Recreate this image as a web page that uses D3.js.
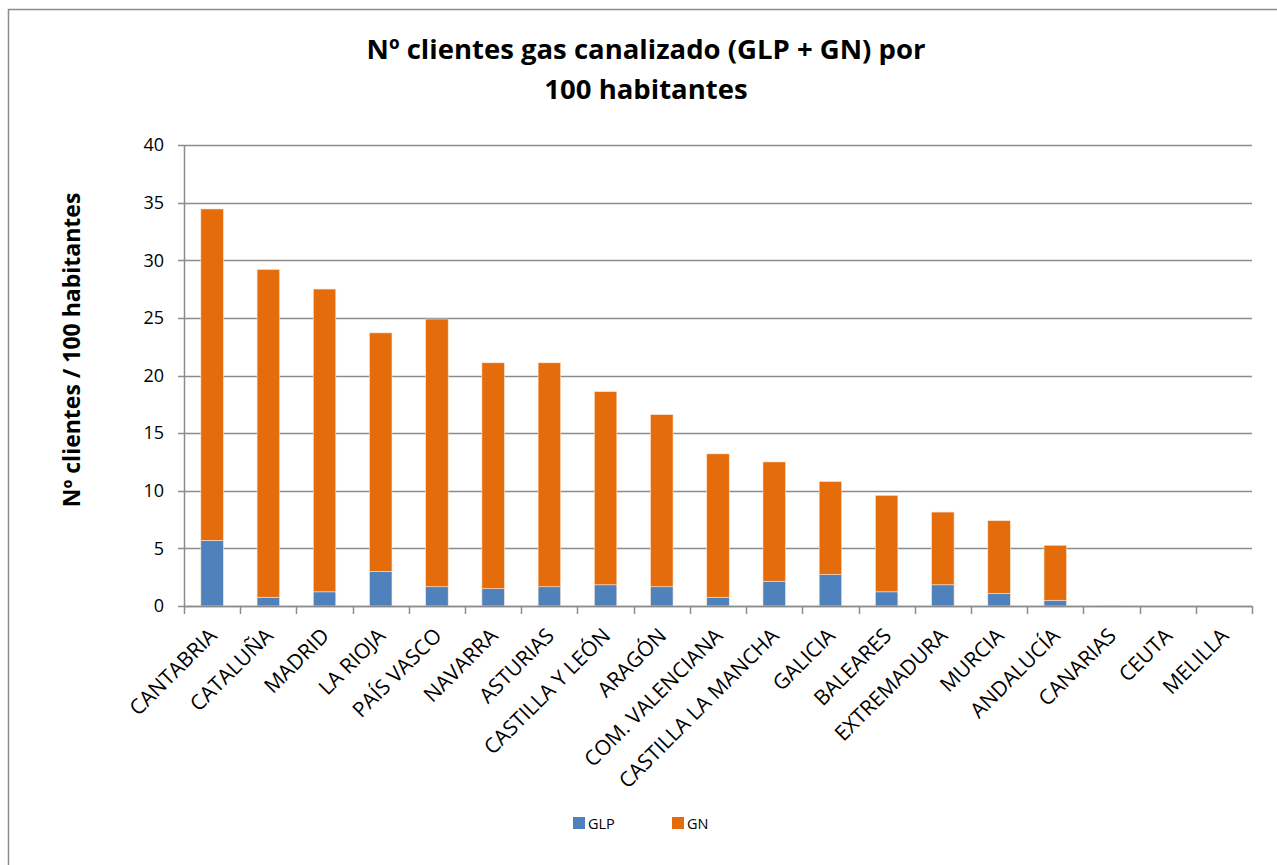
<!DOCTYPE html>
<html>
<head>
<meta charset="utf-8">
<title>Nº clientes gas canalizado</title>
<script src="https://cdn.jsdelivr.net/npm/d3@7"></script>
<style>
  body { margin: 0; background: #fff; }
  svg { display: block; font-family: "Open Sans", "DejaVu Sans", sans-serif; }
</style>
</head>
<body>
<script>
// data
const regiones = ["CANTABRIA", "CATALUÑA", "MADRID", "LA RIOJA", "PAÍS VASCO", "NAVARRA",
  "ASTURIAS", "CASTILLA Y LEÓN", "ARAGÓN", "COM. VALENCIANA", "CASTILLA LA MANCHA",
  "GALICIA", "BALEARES", "EXTREMADURA", "MURCIA", "ANDALUCÍA", "CANARIAS", "CEUTA", "MELILLA"];
const glp = [5.7, 0.76, 1.23, 3.0, 1.67, 1.5, 1.67, 1.84, 1.67, 0.76, 2.15, 2.73, 1.23, 1.84, 1.1, 0.5, 0.05, 0, 0];
const total = [34.45, 29.2, 27.5, 23.7, 24.9, 21.1, 21.1, 18.6, 16.6, 13.2, 12.5, 10.8, 9.6, 8.15, 7.4, 5.27, 0.07, 0, 0];
const gn = total.map((t, i) => Math.max(0, +(t - glp[i]).toFixed(2)));
const series = ["GLP", "GN"];
const colors = ["#4F81BD", "#E46C0A"];
const yTicks = [0, 5, 10, 15, 20, 25, 30, 35, 40];

const W = 1277, H = 865;
const margin = {top: 145, right: 25, bottom: 259, left: 184};
const width = W - margin.left - margin.right,
      height = H - margin.top - margin.bottom;
const FONT = "'Open Sans', 'DejaVu Sans', sans-serif";

const svg = d3.select("body").append("svg")
    .attr("width", W)
    .attr("height", H);

// chart frame
svg.append("rect")
    .attr("x", 8.5).attr("y", 9.5)
    .attr("width", 1300).attr("height", 900)
    .attr("fill", "none")
    .attr("stroke", "#8c8c8c")
    .attr("stroke-width", 1.5);

const title = svg.append("text")
    .attr("text-anchor", "middle")
    .attr("font-weight", "bold")
    .attr("font-size", 27.5)
    .attr("fill", "#000");
title.append("tspan").attr("x", 646).attr("y", 59).text("Nº clientes gas canalizado (GLP + GN) por");
title.append("tspan").attr("x", 646).attr("y", 99).text("100 habitantes");

const g = svg.append("g")
    .attr("transform", "translate(" + margin.left + "," + margin.top + ")");

const x = d3.scaleBand().domain(regiones).range([0, width]).paddingInner(0).paddingOuter(0);
const y = d3.scaleLinear().domain([0, 40]).range([height, 0]);

// gridlines
g.append("g")
    .selectAll("line")
    .data(yTicks)
    .join("line")
    .attr("x1", -6).attr("x2", width)
    .attr("y1", d => Math.round(y(d)) + 0.5)
    .attr("y2", d => Math.round(y(d)) + 0.5)
    .attr("stroke", "#8c8c8c")
    .attr("stroke-width", 1.5);

// y axis
const yAxis = d3.axisLeft(y).tickValues(yTicks).tickSize(0).tickPadding(20);
const yg = g.append("g").call(yAxis).attr("font-family", FONT);
yg.select(".domain").remove();
yg.selectAll("text").attr("font-size", 18).attr("fill", "#000");

g.append("line")
    .attr("x1", 0.5).attr("x2", 0.5)
    .attr("y1", 0).attr("y2", height)
    .attr("stroke", "#8c8c8c").attr("stroke-width", 1.5);

// stacked bars
const stackData = regiones.map((r, i) => ({region: r, GLP: glp[i], GN: gn[i]}));
const stacked = d3.stack().keys(series)(stackData);
const bw = x.bandwidth() * 0.4;

g.append("g")
    .selectAll("g")
    .data(stacked)
    .join("g")
    .attr("fill", (d, i) => colors[i])
    .selectAll("rect")
    .data(d => d)
    .join("rect")
    .attr("x", d => x(d.data.region) + (x.bandwidth() - bw) / 2)
    .attr("width", bw)
    .attr("y", d => y(d[1]))
    .attr("height", d => y(d[0]) - y(d[1]))
    .attr("stroke", "#fbe3d0")
    .attr("stroke-width", 0.6);

// x axis
const xAxis = d3.axisBottom(x).tickSize(0).tickFormat("");
const xg = g.append("g").attr("transform", "translate(0," + height + ")").call(xAxis)
    .attr("font-family", FONT);
xg.select(".domain").remove();
xg.append("line")
    .attr("x1", 0).attr("x2", width)
    .attr("y1", 0.5).attr("y2", 0.5)
    .attr("stroke", "#8c8c8c").attr("stroke-width", 1.5);
xg.selectAll(".bound")
    .data(d3.range(regiones.length + 1))
    .join("line")
    .attr("class", "bound")
    .attr("x1", i => Math.round(i * x.step()) + 0.5)
    .attr("x2", i => Math.round(i * x.step()) + 0.5)
    .attr("y1", 0).attr("y2", 8)
    .attr("stroke", "#8c8c8c").attr("stroke-width", 1.5);

xg.selectAll(".lbl")
    .data(regiones)
    .join("text")
    .attr("class", "lbl")
    .attr("text-anchor", "end")
    .attr("font-size", 21)
    .attr("fill", "#000")
    .attr("transform", d => "translate(" + (x(d) + x.bandwidth() / 2 + 6) + ",31) rotate(-45)")
    .text(d => d);

// y axis title
svg.append("text")
    .attr("transform", "translate(80,350) rotate(-90)")
    .attr("text-anchor", "middle")
    .attr("font-weight", "bold")
    .attr("font-size", 23)
    .text("Nº clientes / 100 habitantes");

// legend
const legend = svg.append("g").attr("transform", "translate(573,817)");
const items = legend.selectAll("g")
    .data(series)
    .join("g")
    .attr("transform", (d, i) => "translate(" + (i * 99) + ",0)");
items.append("rect")
    .attr("width", 12).attr("height", 12)
    .attr("fill", (d, i) => colors[i]);
items.append("text")
    .attr("x", 15).attr("y", 11.5)
    .attr("font-size", 14.5)
    .text(d => d);
</script>
</body>
</html>
